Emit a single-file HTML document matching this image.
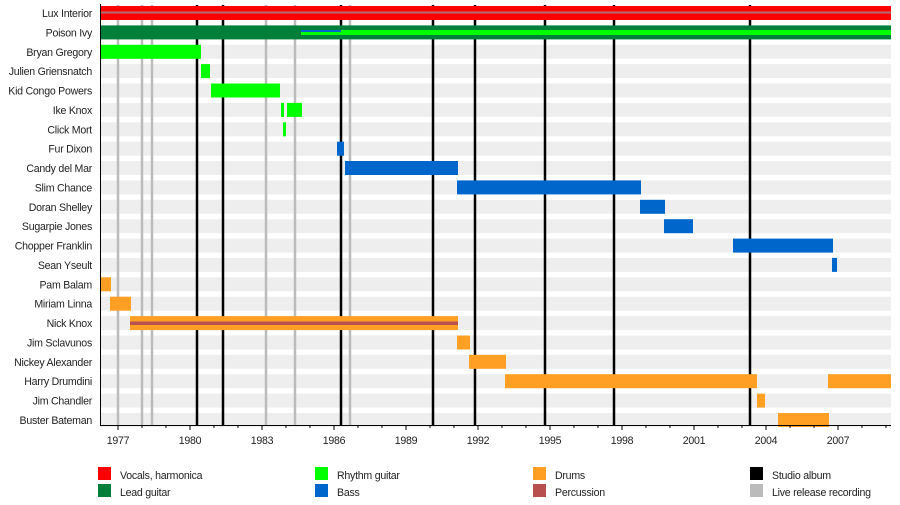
<!DOCTYPE html>
<html><head><meta charset="utf-8"><style>
body{margin:0;background:#fff;}
svg{display:block;font-family:"Liberation Sans",sans-serif;font-size:10.6px;letter-spacing:-0.25px;}
</style></head><body>
<svg width="900" height="505" viewBox="0 0 900 505" xmlns="http://www.w3.org/2000/svg">
<g fill="#eeeeee">
<rect x="100" y="6" width="791" height="14"/><rect x="100" y="25.4" width="791" height="14"/><rect x="100" y="44.8" width="791" height="14"/><rect x="100" y="64.1" width="791" height="14"/><rect x="100" y="83.5" width="791" height="14"/><rect x="100" y="102.9" width="791" height="14"/><rect x="100" y="122.3" width="791" height="14"/><rect x="100" y="141.7" width="791" height="14"/><rect x="100" y="161" width="791" height="14"/><rect x="100" y="180.4" width="791" height="14"/><rect x="100" y="199.8" width="791" height="14"/><rect x="100" y="219.2" width="791" height="14"/><rect x="100" y="238.6" width="791" height="14"/><rect x="100" y="257.9" width="791" height="14"/><rect x="100" y="277.3" width="791" height="14"/><rect x="100" y="296.7" width="791" height="14"/><rect x="100" y="316.1" width="791" height="14"/><rect x="100" y="335.5" width="791" height="14"/><rect x="100" y="354.8" width="791" height="14"/><rect x="100" y="374.2" width="791" height="14"/><rect x="100" y="393.6" width="791" height="14"/><rect x="100" y="413" width="791" height="14"/>
</g>
<g stroke="#bbbbbb" stroke-width="2.5">
<line x1="118" y1="5" x2="118" y2="425"/><line x1="142" y1="5" x2="142" y2="425"/><line x1="152" y1="5" x2="152" y2="425"/><line x1="266" y1="5" x2="266" y2="425"/><line x1="295" y1="5" x2="295" y2="425"/><line x1="350" y1="5" x2="350" y2="425"/>
</g>
<g stroke="#000" stroke-width="2.5">
<line x1="197" y1="5" x2="197" y2="425"/><line x1="223" y1="5" x2="223" y2="425"/><line x1="341" y1="5" x2="341" y2="425"/><line x1="433" y1="5" x2="433" y2="425"/><line x1="475" y1="5" x2="475" y2="425"/><line x1="545" y1="5" x2="545" y2="425"/><line x1="614" y1="5" x2="614" y2="425"/><line x1="750" y1="5" x2="750" y2="425"/>
</g>
<rect x="100" y="6" width="791" height="14" fill="#ff0000"/>
<rect x="100" y="11.5" width="791" height="2" fill="#b07070"/>
<rect x="100" y="25.4" width="791" height="14" fill="#007f3a"/>
<rect x="301" y="30" width="40" height="2" fill="#0066cc"/>
<rect x="301" y="32" width="40" height="3" fill="#00ff00"/>
<rect x="341" y="30" width="550" height="5" fill="#00ff00"/>
<g fill="#00ff00">
<rect x="100" y="44.8" width="101" height="14"/>
<rect x="201" y="64.1" width="9" height="14"/>
<rect x="211" y="83.5" width="69" height="14"/>
<rect x="281" y="102.9" width="3" height="14"/><rect x="287" y="102.9" width="15" height="14"/>
<rect x="283" y="122.3" width="3" height="14"/>
</g>
<g fill="#0066cc">
<rect x="337" y="141.7" width="7" height="14"/>
<rect x="345" y="161" width="113" height="14"/>
<rect x="457" y="180.4" width="184" height="14"/>
<rect x="640" y="199.8" width="25" height="14"/>
<rect x="664" y="219.2" width="29" height="14"/>
<rect x="733" y="238.6" width="100" height="14"/>
<rect x="832" y="257.9" width="5" height="14"/>
</g>
<g fill="#ffa024">
<rect x="100" y="277.3" width="11" height="14"/>
<rect x="110" y="296.7" width="21" height="14"/>
<rect x="130" y="316.1" width="328" height="14"/>
<rect x="457" y="335.5" width="13" height="14"/>
<rect x="469" y="354.8" width="37" height="14"/>
<rect x="505" y="374.2" width="252" height="14"/><rect x="828" y="374.2" width="63" height="14"/>
<rect x="757" y="393.6" width="8" height="14"/>
<rect x="778" y="413" width="51" height="14"/>
</g>
<rect x="130" y="321.5" width="328" height="3.5" fill="#b85050"/>
<g fill="#222" text-anchor="end">
<text x="92" y="17">Lux Interior</text><text x="92" y="36.4">Poison Ivy</text><text x="92" y="55.8">Bryan Gregory</text><text x="92" y="75.1">Julien Griensnatch</text><text x="92" y="94.5">Kid Congo Powers</text><text x="92" y="113.9">Ike Knox</text><text x="92" y="133.3">Click Mort</text><text x="92" y="152.7">Fur Dixon</text><text x="92" y="172">Candy del Mar</text><text x="92" y="191.4">Slim Chance</text><text x="92" y="210.8">Doran Shelley</text><text x="92" y="230.2">Sugarpie Jones</text><text x="92" y="249.6">Chopper Franklin</text><text x="92" y="268.9">Sean Yseult</text><text x="92" y="288.3">Pam Balam</text><text x="92" y="307.7">Miriam Linna</text><text x="92" y="327.1">Nick Knox</text><text x="92" y="346.5">Jim Sclavunos</text><text x="92" y="365.8">Nickey Alexander</text><text x="92" y="385.2">Harry Drumdini</text><text x="92" y="404.6">Jim Chandler</text><text x="92" y="424">Buster Bateman</text>
</g>
<g stroke="#000" stroke-width="1">
<line x1="100.5" y1="4" x2="100.5" y2="425.5"/><line x1="100" y1="425.5" x2="891" y2="425.5"/>
<path d="M118 425v5M142 425v3M166 425v3M190 425v5M214 425v3M238 425v3M262 425v5M286 425v3M310 425v3M334 425v5M358 425v3M382 425v3M406 425v5M430 425v3M454 425v3M478 425v5M502 425v3M526 425v3M550 425v5M574 425v3M598 425v3M622 425v5M646 425v3M670 425v3M694 425v5M718 425v3M742 425v3M766 425v5M790 425v3M814 425v3M838 425v5M862 425v3M886 425v3"/>
</g>
<g fill="#222" text-anchor="middle">
<text x="118" y="444">1977</text><text x="190" y="444">1980</text><text x="262" y="444">1983</text><text x="334" y="444">1986</text><text x="406" y="444">1989</text><text x="478" y="444">1992</text><text x="550" y="444">1995</text><text x="622" y="444">1998</text><text x="694" y="444">2001</text><text x="766" y="444">2004</text><text x="838" y="444">2007</text>
</g>
<rect x="98" y="467" width="13" height="13" fill="#ff0000"/><rect x="98" y="484" width="13" height="13" fill="#007f3a"/>
<rect x="315" y="467" width="13" height="13" fill="#00ff00"/><rect x="315" y="484" width="13" height="13" fill="#0066cc"/>
<rect x="533" y="467" width="13" height="13" fill="#ffa024"/><rect x="533" y="484" width="13" height="13" fill="#b85050"/>
<rect x="750" y="467" width="13" height="13" fill="#000"/><rect x="750" y="484" width="13" height="13" fill="#bbbbbb"/>
<g fill="#222">
<text x="120" y="479">Vocals, harmonica</text><text x="120" y="496">Lead guitar</text>
<text x="337" y="479">Rhythm guitar</text><text x="337" y="496">Bass</text>
<text x="555" y="479">Drums</text><text x="555" y="496">Percussion</text>
<text x="772" y="479">Studio album</text><text x="772" y="496">Live release recording</text>
</g>
</svg>
</body></html>
